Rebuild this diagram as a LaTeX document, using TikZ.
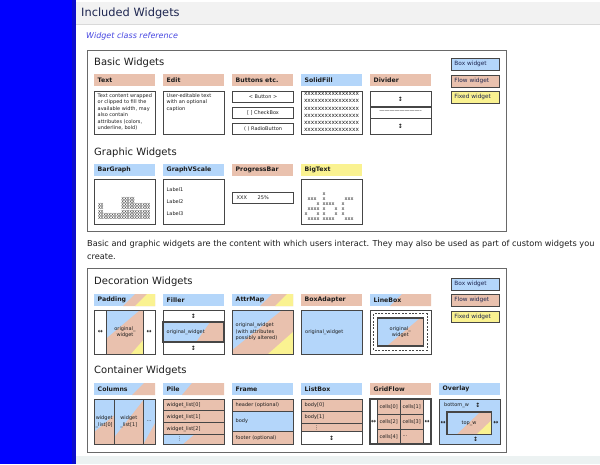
\documentclass[tikz,border=0pt]{standalone}
\usepackage{fontspec}
\setmainfont{DejaVu Sans}
\definecolor{boxc}{RGB}{180,214,250}
\definecolor{flowc}{RGB}{233,193,174}
\definecolor{fixc}{RGB}{250,242,145}
\definecolor{edge}{RGB}{70,70,70}
\definecolor{frameg}{RGB}{105,105,105}
\definecolor{headbg}{RGB}{242,242,242}
\definecolor{headfg}{RGB}{30,38,80}
\definecolor{linkc}{RGB}{70,70,225}
\definecolor{sidebar}{RGB}{0,0,255}
\definecolor{sidedark}{RGB}{12,12,205}
\definecolor{footbg}{RGB}{236,242,242}
\definecolor{inkc}{RGB}{28,28,28}
\begin{document}
\begin{tikzpicture}[x=1pt,y=-1pt,
  every node/.style={inner sep=0pt, text=inkc},
  heading/.style={anchor=west, font=\fontsize{10}{12}\selectfont},
  barlab/.style={anchor=north west, minimum width=61pt, minimum height=12pt, text width=54pt, inner xsep=3.5pt, align=left, font=\fontsize{6.2}{7}\selectfont\bfseries},
  legend/.style={draw=edge, line width=0.9pt, anchor=north west, minimum width=48pt, minimum height=11.5pt, text width=42pt, inner xsep=3pt, align=left, font=\fontsize{5.8}{7}\selectfont, text=headfg},
  wbox/.style={draw=edge, line width=1.1pt, anchor=north west, minimum width=61pt},
  small/.style={font=\fontsize{5}{6.4}\selectfont},
  smallL/.style={small, anchor=west},
  arr/.style={font=\fontsize{6}{6}\selectfont\bfseries},
  sect/.style={draw=frameg, line width=0.9pt, anchor=north west},
  ln/.style={draw=edge, line width=1.1pt},
  barx/.style={font=\fontsize{4.2}{4}\selectfont, text=inkc},
  bigx/.style={font=\fontsize{5}{5}\selectfont, text=inkc},
]
\useasboundingbox (0,0) rectangle (600,464);
% page background
\fill[white] (0,0) rectangle (600,464);
\fill[sidebar] (0,0) rectangle (72,464);
\fill[sidedark] (72,0) rectangle (76,464);
\fill[headbg] (76,2) rectangle (600,24);
\draw[black!15] (76,24) -- (600,24);
\fill[footbg] (76,456) rectangle (600,464);

\node[anchor=west, font=\fontsize{11.4}{13}\selectfont, text=headfg] (title) at (81,13.5) {Included Widgets};
\node[anchor=west, font=\fontsize{8}{9}\selectfont\itshape, text=linkc] (link) at (86,36.5) {Widget class reference};

% sections
\node[sect, minimum width=419pt, minimum height=181pt] (sec1) at (87,50) {};
\node[sect, minimum width=419pt, minimum height=184pt] (sec2) at (87,268) {};

\node[anchor=west, font=\fontsize{8.2}{10}\selectfont] (para1) at (87,244.5) {Basic and graphic widgets are the content with which users interact. They may also be used as part of custom widgets you};
\node[anchor=west, font=\fontsize{8.2}{10}\selectfont] (para2) at (87,257) {create.};

\node[heading] (hbasic) at (94,63) {Basic Widgets};
\node[heading] (hgraphic) at (94,153) {Graphic Widgets};
\node[heading] (hdeco) at (94,282) {Decoration Widgets};
\node[heading] (hcont) at (94,371) {Container Widgets};

% legends
\node[legend, fill=boxc] (lg1a) at (451,58) {Box widget};
\node[legend, fill=flowc] (lg1b) at (451,75) {Flow widget};
\node[legend, fill=fixc] (lg1c) at (451,91) {Fixed widget};
\node[legend, fill=boxc] (lg2a) at (451,278) {Box widget};
\node[legend, fill=flowc] (lg2b) at (451,294) {Flow widget};
\node[legend, fill=fixc] (lg2c) at (451,310.5) {Fixed widget};

% ---------------- Basic widgets
\node[barlab, fill=flowc] (lText) at (94,74) {Text};
\node[barlab, fill=flowc] (lEdit) at (163,74) {Edit};
\node[barlab, fill=flowc] (lBtn) at (232,74) {Buttons etc.};
\node[barlab, fill=boxc] (lSolid) at (301,74) {SolidFill};
\node[barlab, fill=flowc] (lDiv) at (370,74) {Divider};

\node[wbox, minimum height=43pt] (bText) at (94,91) {};
\node[small, anchor=north west, align=left] (tText) at (97.5,93.5) {Text content wrapped\\or clipped to fill the\\available width, may\\also contain\\attributes (colors,\\underline, bold)};
\node[wbox, minimum height=43pt] (bEdit) at (163,91) {};
\node[small, anchor=north west, align=left] (tEdit) at (166.5,93.5) {User-editable text\\with an optional\\caption};

\node[wbox, minimum height=11pt, small] (bBtn) at (232,91) {< Button >};
\node[wbox, minimum height=11pt, small] (bChk) at (232,107) {[ ] CheckBox};
\node[wbox, minimum height=11pt, small] (bRad) at (232,123) {( ) RadioButton};

\node[wbox, minimum height=43pt] (bSolid) at (301,91) {};
\node[anchor=north, align=center, font=\fontsize{5.8}{7.1}\selectfont] (tSolid) at (331.5,92.5) {xxxxxxxxxxxxxxxx\\xxxxxxxxxxxxxxxx\\xxxxxxxxxxxxxxxx\\xxxxxxxxxxxxxxxx\\xxxxxxxxxxxxxxxx\\xxxxxxxxxxxxxxxx};

\node[wbox, minimum height=43pt] (bDiv) at (370,91) {};
\draw[ln] (370,107) -- (431,107) (370,118.5) -- (431,118.5);
\node[arr] (dA1) at (400.5,99) {↕};
\node[font=\fontsize{5}{5}\selectfont] (dDash) at (400.5,112) {--------------------------};
\node[arr] (dA2) at (400.5,126.5) {↕};

% ---------------- Graphic widgets
\node[barlab, fill=boxc] (lBar) at (94,164) {BarGraph};
\node[barlab, fill=boxc] (lVS) at (163,164) {GraphVScale};
\node[barlab, fill=flowc] (lProg) at (232,164) {ProgressBar};
\node[barlab, fill=fixc] (lBig) at (301,164) {BigText};

\node[wbox, minimum height=45pt] (bBar) at (94,179) {};
\foreach \c/\h in {0/5,1/5,2/2,3/2,4/2,5/2,6/2,7/2,8/2,9/7,10/7,11/7,12/7,13/7,14/5,15/5,16/5,17/5,18/5,19/5}
  \foreach \r in {1,...,\h}
    \node[barx] (bg\c-\r) at ({99.5+2.6*\c},{220-3.3*(\r-0.5)}) {X};

\node[wbox, minimum height=45pt] (bVS) at (163,179) {};
\node[smallL] (vs1) at (166.5,190) {Label1};
\node[smallL] (vs2) at (166.5,202) {Label2};
\node[smallL] (vs3) at (166.5,214) {Label3};

\node[wbox, minimum height=11pt] (bProg) at (232,192) {};
\node[smallL] (pX) at (236.5,197.5) {XXX};
\node[smallL] (pP) at (257.5,197.5) {25\%};

\node[wbox, minimum height=45pt] (bBig) at (301,179) {};
\foreach \c/\r [count=\i] in {1/1,2/1,3/1,4/2,1/3,2/3,3/3,4/3,0/4,4/4,1/5,2/5,3/5,4/5}
  \node[bigx] (bta\i) at ({306+3*\c},{194+5*\r}) {x};
\foreach \c/\r [count=\i] in {0/0,0/1,0/2,1/2,2/2,3/2,0/3,4/3,0/4,4/4,0/5,1/5,2/5,3/5}
  \node[bigx] (btb\i) at ({324+3*\c},{194+5*\r}) {x};
\foreach \c/\r [count=\i] in {1/1,2/1,3/1,0/2,0/3,0/4,1/5,2/5,3/5}
  \node[bigx] (btc\i) at ({343+3*\c},{194+5*\r}) {x};

% ---------------- Decoration widgets
\begin{scope}
  \clip (94,294) rectangle (155,306);
  \fill[boxc] (94,294) rectangle (155,306);
  \fill[flowc] (123,306) -- (135,294) -- (155,294) -- (155,306) -- cycle;
  \fill[fixc] (135,306) -- (147,294) -- (155,294) -- (155,306) -- cycle;
\end{scope}
\node[barlab] (lPad) at (94,294) {Padding};
\node[barlab, fill=boxc] (lFill) at (163,294) {Filler};
\begin{scope}
  \clip (232,294) rectangle (293,306);
  \fill[boxc] (232,294) rectangle (293,306);
  \fill[flowc] (260,306) -- (272,294) -- (293,294) -- (293,306) -- cycle;
  \fill[fixc] (275,306) -- (287,294) -- (293,294) -- (293,306) -- cycle;
\end{scope}
\node[barlab] (lAttr) at (232,294) {AttrMap};
\node[barlab, fill=flowc] (lBA) at (301,294) {BoxAdapter};
\begin{scope}
  \clip (370,294) rectangle (431,306);
  \fill[boxc] (370,294) rectangle (431,306);
  \fill[flowc] (390,306) -- (402,294) -- (431,294) -- (431,306) -- cycle;
\end{scope}
\node[barlab] (lLB) at (370,294) {LineBox};

% Padding
\begin{scope}
  \clip (106.7,310) rectangle (143.3,354);
  \fill[flowc] (106.7,310) rectangle (143.3,354);
  \fill[boxc] (106.7,310) -- (140,310) -- (106.7,338) -- cycle;
  \fill[fixc] (143.3,354) -- (131,354) -- (143.3,340) -- cycle;
\end{scope}
\node[wbox, minimum height=44pt] (bPad) at (94,310) {};
\draw[ln] (106.7,310) -- (106.7,354) (143.3,310) -- (143.3,354);
\node[arr] (padL) at (100.5,332) {↔};
\node[arr] (padR) at (149.2,332) {↔};
\node[small, align=center] (padT) at (125,332) {original\_\\widget};

% Filler
\begin{scope}
  \clip (163,322) rectangle (224,342);
  \fill[flowc] (163,322) rectangle (224,342);
  \fill[boxc] (163,322) -- (210,322) -- (196,342) -- (163,342) -- cycle;
\end{scope}
\node[wbox, minimum height=44pt] (bFill) at (163,310) {};
\draw[ln] (163,322) rectangle (224,342);
\node[arr] (fiA1) at (193.5,316) {↕};
\node[smallL] (fiT) at (166.5,332) {original\_widget};
\node[arr] (fiA2) at (193.5,348) {↕};

% AttrMap
\begin{scope}
  \clip (232,310) rectangle (293,354);
  \fill[flowc] (232,310) rectangle (293,354);
  \fill[boxc] (232,310) -- (282,310) -- (232,350) -- cycle;
  \fill[fixc] (293,354) -- (268,354) -- (293,332) -- cycle;
\end{scope}
\node[wbox, minimum height=44pt] (bAttr) at (232,310) {};
\node[small, anchor=west, align=left] (amT) at (235.5,332) {original\_widget\\(with attributes\\possibly altered)};

% BoxAdapter
\node[wbox, minimum height=44pt, fill=boxc] (bBA) at (301,310) {};
\node[smallL] (baT) at (305,332) {original\_widget};

% LineBox
\node[wbox, minimum height=44pt] (bLB) at (370,310) {};
\draw[edge, line width=1.3pt, dash pattern=on 2pt off 1.4pt] (373.8,313.8) rectangle (427.2,350.2);
\begin{scope}
  \clip (377.3,318) rectangle (423.3,346);
  \fill[flowc] (377.3,318) rectangle (423.3,346);
  \fill[boxc] (377.3,318) -- (420,318) -- (386.7,346) -- (377.3,346) -- cycle;
\end{scope}
\draw[ln] (377.3,318) rectangle (423.3,346);
\node[small, align=center] (lbT) at (400.3,332) {original\_\\widget};

% ---------------- Container widgets
\begin{scope}
  \clip (94,383) rectangle (155,395);
  \fill[boxc] (94,383) rectangle (155,395);
  \fill[flowc] (132,395) -- (144,383) -- (155,383) -- (155,395) -- cycle;
\end{scope}
\node[barlab] (lCol) at (94,383) {Columns};
\begin{scope}
  \clip (163,383) rectangle (224,395);
  \fill[boxc] (163,383) rectangle (224,395);
  \fill[flowc] (182,395) -- (192,383) -- (224,383) -- (224,395) -- cycle;
\end{scope}
\node[barlab] (lPile) at (163,383) {Pile};
\node[barlab, fill=boxc] (lFrame) at (232,383) {Frame};
\node[barlab, fill=boxc] (lLBx) at (301,383) {ListBox};
\node[barlab, fill=flowc] (lGF) at (370,383) {GridFlow};
\node[barlab, fill=boxc] (lOv) at (439,383) {Overlay};

% Columns
\begin{scope}
  \clip (94,399) rectangle (155,444);
  \fill[flowc] (94,399) rectangle (155,444);
  \fill[boxc] (94,399) -- (114.3,399) -- (114.3,415) -- (94,432) -- cycle;
  \fill[boxc] (114.3,399) -- (143.3,399) -- (143.3,400) -- (114.3,437) -- cycle;
  \fill[boxc] (143.3,399) -- (155,399) -- (155,423) -- (143.3,444) -- cycle;
\end{scope}
\node[wbox, minimum height=45pt] (bCol) at (94,399) {};
\draw[ln] (114.3,399) -- (114.3,444) (143.3,399) -- (143.3,444);
\node[small, align=center] (co1) at (104.2,421.5) {widget\\\_list[0]};
\node[small, align=center] (co2) at (128.8,421.5) {widget\\\_list[1]};
\node[small] (co3) at (149.2,421.5) {...};

% Pile
\fill[flowc] (163,399) rectangle (224,444);
\begin{scope}
  \clip (163,434.7) rectangle (224,444);
  \fill[boxc] (163,434.7) -- (194,434.7) -- (183,444) -- (163,444) -- cycle;
\end{scope}
\node[wbox, minimum height=45pt] (bPile) at (163,399) {};
\draw[ln] (163,410.7) -- (224,410.7) (163,422.7) -- (224,422.7) (163,434.7) -- (224,434.7);
\node[smallL] (pi0) at (166.5,404.9) {widget\_list[0]};
\node[smallL] (pi1) at (166.5,416.7) {widget\_list[1]};
\node[smallL] (pi2) at (166.5,428.7) {widget\_list[2]};
\node[small] (pi3) at (179.3,439.4) {⋮};

% Frame
\fill[flowc] (232,399) rectangle (293,411.5);
\fill[boxc] (232,411.5) rectangle (293,431.5);
\fill[flowc] (232,431.5) rectangle (293,444);
\node[wbox, minimum height=45pt] (bFrame) at (232,399) {};
\draw[ln] (232,411.5) -- (293,411.5) (232,431.5) -- (293,431.5);
\node[smallL] (frH) at (235.5,405.3) {header (optional)};
\node[smallL] (frB) at (235.5,421.5) {body};
\node[smallL] (frF) at (235.5,437.8) {footer (optional)};

% ListBox
\fill[flowc] (301,399) rectangle (362,431.7);
\node[wbox, minimum height=45pt] (bLBx) at (301,399) {};
\draw[ln] (301,411.7) -- (362,411.7) (301,431.7) -- (362,431.7);
\draw[edge, line width=0.6pt] (301,423.3) -- (362,423.3);
\node[smallL] (lb0) at (304.5,405.4) {body[0]};
\node[smallL] (lb1) at (304.5,417.4) {body[1]};
\node[small] (lb2) at (316.7,427.5) {⋮};
\node[arr] (lbA) at (331.7,438) {↕};

% GridFlow
\node[wbox, minimum height=45pt] (bGF) at (370,399) {};
\fill[flowc] (377.3,399) rectangle (423.3,444);
\draw[ln] (377.3,399) -- (377.3,444) (423.3,399) -- (423.3,444) (400.3,399) -- (400.3,444)
  (377.3,414.3) -- (423.3,414.3) (377.3,429.2) -- (423.3,429.2);
\draw[ln] (370,399) rectangle (431,444);
\node[smallL] (gf0) at (379.3,406.7) {cells[0]};
\node[smallL] (gf1) at (402.3,406.7) {cells[1]};
\node[smallL] (gf2) at (379.3,421.7) {cells[2]};
\node[smallL] (gf3) at (402.3,421.7) {cells[3]};
\node[smallL] (gf4) at (379.3,436.6) {cells[4]};
\node[smallL] (gf5) at (402.3,436.6) {...};
\node[arr] (gfL) at (373.7,421.7) {↔};
\node[arr] (gfR) at (427.2,421.7) {↔};

% Overlay
\node[wbox, minimum height=45pt, fill=boxc] (bOv) at (439,399) {};
\begin{scope}
  \clip (447,412) rectangle (491.7,434.3);
  \fill[flowc] (447,412) rectangle (491.7,434.3);
  \fill[boxc] (447,412) -- (480,412) -- (456.7,434.3) -- (447,434.3) -- cycle;
  \fill[fixc] (491.7,420) -- (491.7,434.3) -- (476.7,434.3) -- cycle;
\end{scope}
\draw[ln] (447,412) rectangle (491.7,434.3);
\node[smallL] (ovB) at (444,405.5) {bottom\_w};
\node[arr] (ovA1) at (478,405.5) {↕};
\node[small] (ovT) at (469,423) {top\_w};
\node[arr] (ovL) at (443.2,423) {↔};
\node[arr] (ovR) at (495.8,423) {↔};
\node[arr] (ovA2) at (475.7,439.3) {↕};
\end{tikzpicture}
\end{document}
